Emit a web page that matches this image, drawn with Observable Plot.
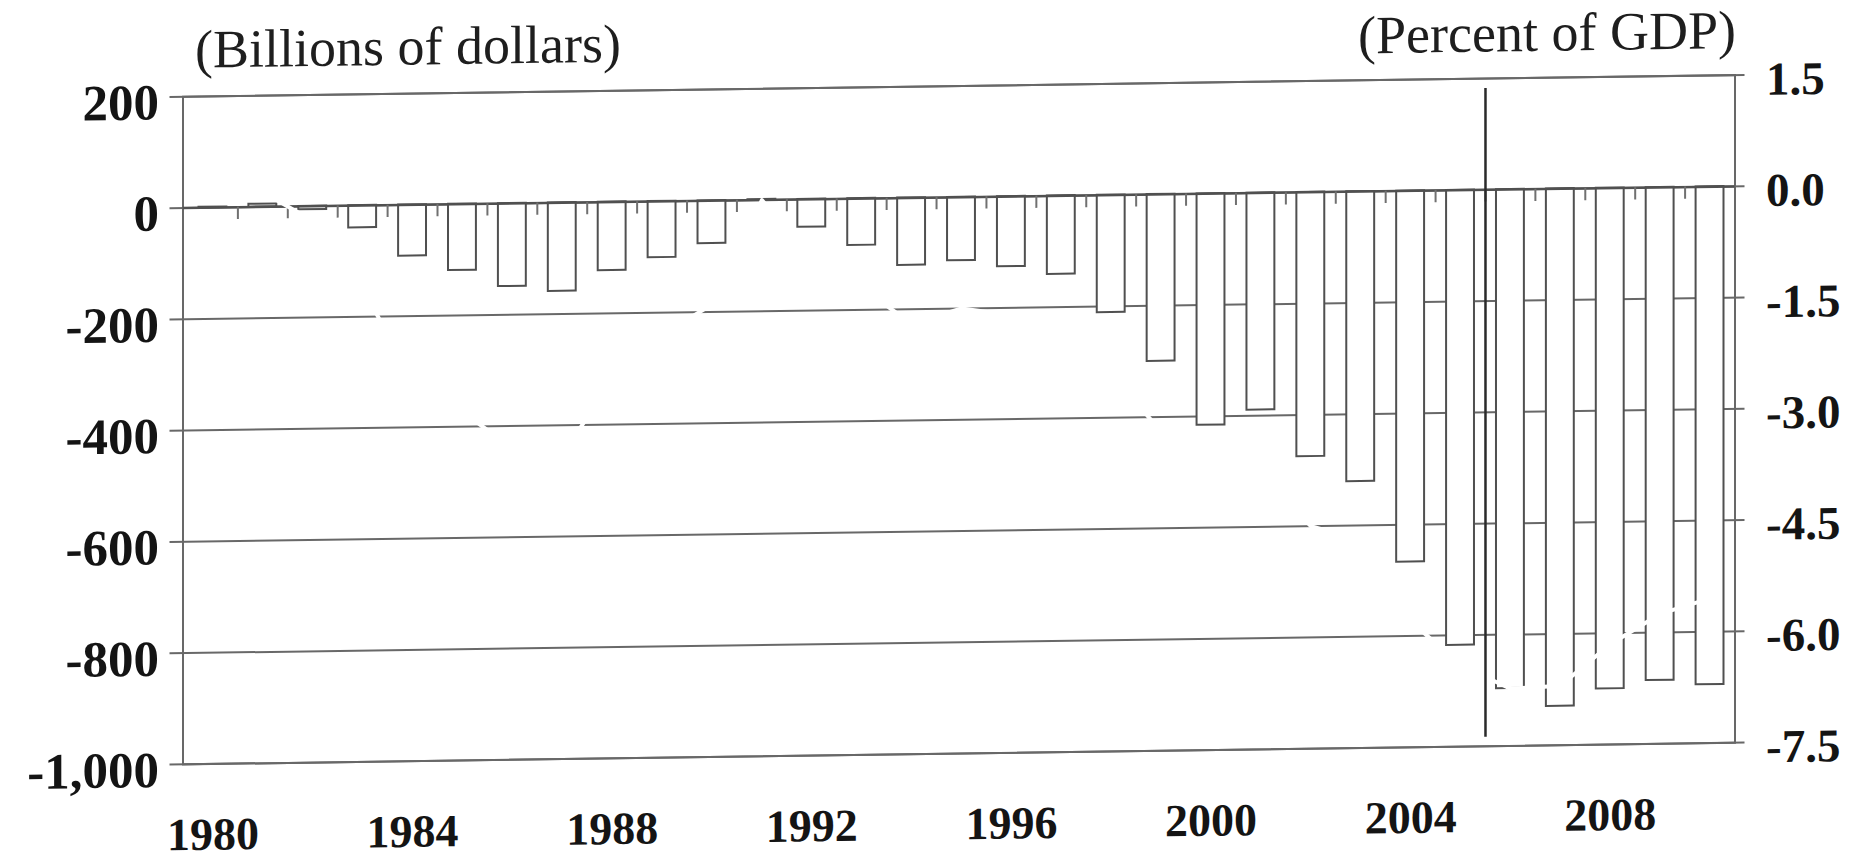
<!DOCTYPE html>
<html>
<head>
<meta charset="utf-8">
<script src="https://cdn.jsdelivr.net/npm/d3@7"></script>
<script src="https://cdn.jsdelivr.net/npm/@observablehq/plot@0.6"></script>
<style>
  html, body { margin: 0; padding: 0; background: #ffffff; }
  #chart svg { display: block; transform: skewY(-0.8deg); transform-origin: 182px 0; }
</style>
</head>
<body>
<div id="chart"></div>
<script>
// ---- Data ----
const years = [1980, 1981, 1982, 1983, 1984, 1985, 1986, 1987, 1988, 1989,
               1990, 1991, 1992, 1993, 1994, 1995, 1996, 1997, 1998, 1999,
               2000, 2001, 2002, 2003, 2004, 2005, 2006, 2007, 2008, 2009, 2010];
// current account balance, billions of dollars (bars)
const balance = [1, 5, -6, -40, -92, -119, -149, -159, -123, -101,
                 -77, 1, -50, -84, -121, -114, -126, -141, -211, -300,
                 -416, -390, -475, -521, -667, -818, -897, -930, -900, -886, -895];
// current account balance, percent of GDP (line, drawn in white)
const pctGDP = [0.1, 0.2, -0.2, -1.1, -2.4, -2.8, -3.3, -3.4, -2.4, -1.8,
                -1.4, 0.0, -0.8, -1.2, -1.7, -1.5, -1.6, -1.7, -2.4, -3.2,
                -4.2, -3.8, -4.5, -4.7, -5.8, -6.4, -6.73, -6.7, -6.15, -5.75, -5.55];
const projectionStart = 2006;

const leftTicks = [200, 0, -200, -400, -600, -800, -1000];
const leftTickLabels = ["200", "0", "-200", "-400", "-600", "-800", "-1,000"];
const rightTickLabels = ["1.5", "0.0", "-1.5", "-3.0", "-4.5", "-6.0", "-7.5"];
const xLabelYears = [1980, 1984, 1988, 1992, 1996, 2000, 2004, 2008];
const leftTitle = "(Billions of dollars)";
const rightTitle = "(Percent of GDP)";
const pctPerBillion = 1.5 / 200; // right axis 1.5 corresponds to left 200

// ---- Derived tables ----
const data = years.map((year, i) => ({year, balance: balance[i], pct: pctGDP[i]}));
const boundaries = years.slice(0, -1).map(y => y + 0.5);
const leftLabel = new Map(leftTicks.map((v, i) => [v, leftTickLabels[i]]));
const rightLabel = new Map(leftTicks.map((v, i) => [v, rightTickLabels[i]]));

const GRID = "#686868";
const BAR = "#505050";
const INK = "#141414";
const FONT = "'Liberation Serif', 'Times New Roman', serif";

const chart = Plot.plot({
  width: 1870,
  height: 861,
  marginLeft: 182.5,
  marginRight: 135.5,
  marginTop: 96.3,
  marginBottom: 97.1,
  x: {type: "linear", domain: [1979.4, 2010.5], axis: null},
  y: {domain: [-1000, 200], axis: null},
  style: {fontFamily: FONT, background: "#ffffff", color: INK},
  marks: [
    // horizontal gridlines with outer ticks
    Plot.ruleY(leftTicks, {stroke: GRID, strokeWidth: 2, insetLeft: -13, insetRight: -10}),
    Plot.frame({stroke: GRID, strokeWidth: 2}),
    // bars
    Plot.rect(data, {
      x1: d => d.year - 0.5, x2: d => d.year + 0.5,
      y1: () => 0, y2: "balance",
      insetLeft: 11, insetRight: 11,
      fill: "#ffffff", stroke: BAR, strokeWidth: 2
    }),
    // zero line
    Plot.ruleY([0], {stroke: BAR, strokeWidth: 2.5}),
    // category boundary ticks hanging from the zero line
    Plot.ruleX(boundaries, {y1: () => 0, y2: () => -22, stroke: "#707070", strokeWidth: 2}),
    // percent of GDP line (white)
    Plot.line(data, {x: "year", y: d => d.pct / pctPerBillion, stroke: "#ffffff", strokeWidth: 4}),
    // projection separator
    Plot.ruleX([projectionStart - 0.5], {stroke: "#2a2a2a", strokeWidth: 2.5, insetTop: 10, insetBottom: 9}),
    // left tick labels
    Plot.text(leftTicks, {
      y: d => d, frameAnchor: "left", dx: -24, dy: 6, textAnchor: "end",
      text: d => leftLabel.get(d), fontSize: 51, fontWeight: "bold", fill: INK
    }),
    // right tick labels
    Plot.text(leftTicks, {
      y: d => d, frameAnchor: "right", dx: 31, dy: 5, textAnchor: "start",
      text: d => rightLabel.get(d), fontSize: 47, fontWeight: "bold", fill: INK
    }),
    // x labels
    Plot.text(xLabelYears, {
      x: d => d, frameAnchor: "bottom", dy: 53, lineAnchor: "top",
      text: d => String(d), fontSize: 46, fontWeight: "bold", fill: INK
    }),
    // unit titles
    Plot.text([leftTitle], {
      frameAnchor: "top-left", dx: 12, dy: -29, lineAnchor: "bottom", textAnchor: "start",
      text: d => d, fontSize: 54, fill: "#1e1e1e"
    }),
    Plot.text([rightTitle], {
      frameAnchor: "top-right", dx: 1, dy: -27, lineAnchor: "bottom", textAnchor: "end",
      text: d => d, fontSize: 54, fill: "#1e1e1e"
    })
  ]
});
document.getElementById("chart").appendChild(chart);
</script>
</body>
</html>
